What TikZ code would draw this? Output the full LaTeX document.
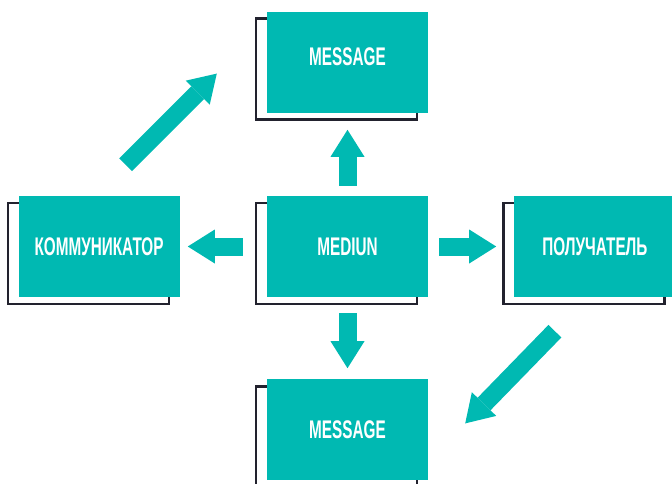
\documentclass[tikz,border=0pt]{standalone}
\usepackage{fontspec}
\usepackage{tikz}
\usetikzlibrary{arrows.meta, positioning, shadows}
\newfontfamily\boxfont{Liberation Sans}[FakeStretch=0.6]
\definecolor{boxteal}{RGB}{0,185,178}
\definecolor{framedark}{RGB}{34,34,46}
\tikzset{
  box/.style={fill=boxteal, minimum width=161pt, minimum height=101pt, inner sep=0pt,
    text=white, font=\boxfont\bfseries\fontsize{25.5}{30}\selectfont,
    general shadow={shadow xshift=-11pt, shadow yshift=-7pt, fill=white,
      draw=framedark, line width=2.2pt}},
  blockarrow/.style={draw=boxteal, line width=18pt,
    -{Triangle[length=27pt, width=34pt, line width=0pt]}}
}
\begin{document}
\begin{tikzpicture}[x=1pt, y=-1pt]
  % Page
  \useasboundingbox (0,0) rectangle (672,484);
  \clip (0,0) rectangle (672,484);

  % Centre box
  \node[box] (med) at (347.5,246.5) {MEDIUN};

  % Boxes around it
  \node[box, above=83pt of med, text depth=12pt] (msgtop) {MESSAGE};
  \node[box, below=82pt of med] (msgbot) {MESSAGE};
  \node[box, left=87pt of med] (comm) {КОММУНИКАТОР};
  \node[box, right=86pt of med] (recv) {ПОЛУЧАТЕЛЬ};

  % Straight arrows
  \draw[blockarrow] ([yshift=10pt]med.north) -- ([yshift=-17pt]msgtop.south);
  \draw[blockarrow] ([yshift=-16pt]med.south) -- ([yshift=11pt]msgbot.north);
  \draw[blockarrow] ([xshift=-24pt]med.west) -- ([xshift=8pt]comm.east);
  \draw[blockarrow] ([xshift=11pt]med.east) -- ([xshift=-18pt]recv.west);

  % Diagonal arrows
  \draw[blockarrow] ([shift={(26.5pt,31pt)}]comm.north) -- ([shift={(-50pt,-11.5pt)}]msgtop.west);
  \draw[blockarrow] ([shift={(-40pt,-34pt)}]recv.south) -- ([shift={(37pt,6.5pt)}]msgbot.east);
\end{tikzpicture}
\end{document}
